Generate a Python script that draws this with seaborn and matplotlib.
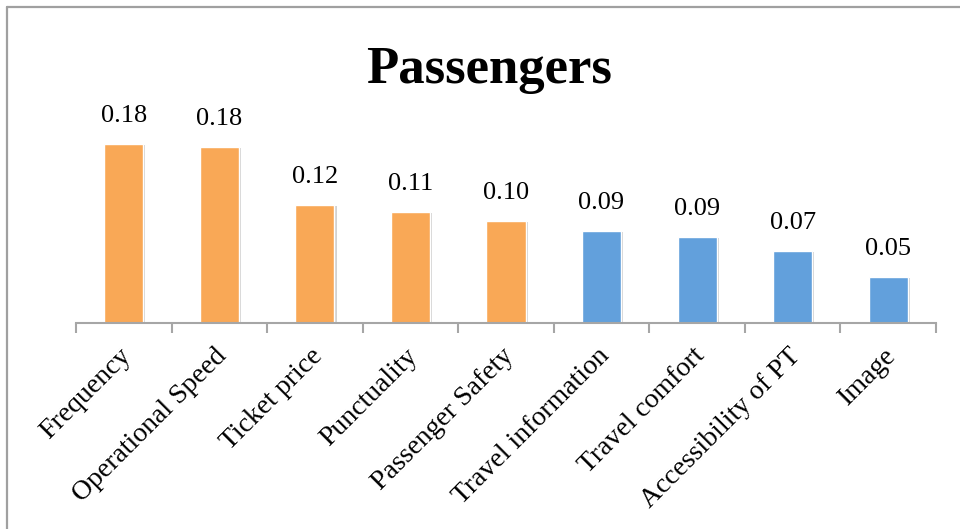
import matplotlib
matplotlib.use("Agg")
import matplotlib.pyplot as plt
import matplotlib.patheffects as pe
from matplotlib.lines import Line2D
from matplotlib.transforms import ScaledTranslation
import seaborn as sns
import pandas as pd

# Importance weights of service attributes for passengers
categories = ["Frequency", "Operational Speed", "Ticket price", "Punctuality",
              "Passenger Safety", "Travel information", "Travel comfort",
              "Accessibility of PT", "Image"]
weights = [0.179, 0.176, 0.118, 0.111, 0.102, 0.092, 0.086, 0.072, 0.046]
groups = ["major"] * 5 + ["minor"] * 4
group_colors = {"major": "#F9A856", "minor": "#62A0DC"}

df = pd.DataFrame({"attribute": categories, "weight": weights, "group": groups})

sns.set_theme(style="white")
plt.rcParams["font.family"] = ["Liberation Serif", "DejaVu Serif"]

fig = plt.figure(figsize=(9.6, 5.29), dpi=100)
ax = fig.add_axes([76 / 960, 1 - 323 / 529, (936 - 76) / 960, 200 / 529])

sns.barplot(data=df, x="attribute", y="weight", hue="group", palette=group_colors,
            dodge=False, width=0.41, legend=False, ax=ax, saturation=1)

shadow = [pe.SimplePatchShadow(offset=(1.5, -1.0), shadow_rgbFace="#808080", alpha=0.35),
          pe.Normal()]
for bar in ax.patches:
    bar.set_path_effects(shadow)

ax.set_xlim(-0.5, len(categories) - 0.5)
ax.set_ylim(0, 0.2)
ax.set_xlabel("")
ax.set_ylabel("")
ax.set_yticks([])
for side in ("top", "right", "left"):
    ax.spines[side].set_visible(False)
ax.spines["bottom"].set_color("#A6A6A6")
ax.spines["bottom"].set_linewidth(1.5)

# value labels above each bar
for i, v in enumerate(weights):
    ax.annotate(f"{v:.2f}", xy=(i, v), xytext=(0, 12.5), textcoords="offset points",
                ha="center", va="bottom", fontsize=19, color="black")

# category boundary ticks, labels rotated under the axis
ax.set_xticks([i - 0.5 for i in range(len(categories) + 1)], minor=True)
ax.tick_params(axis="x", which="minor", length=7, width=1.5, color="#A6A6A6",
               direction="out", bottom=True)
ax.tick_params(axis="x", which="major", length=0, pad=14)
ax.set_xticks(range(len(categories)))
ax.set_xticklabels(categories, rotation=45, ha="right", rotation_mode="anchor",
                   fontsize=20, color="black")
nudge = ScaledTranslation(-5 / 100, -1 / 100, fig.dpi_scale_trans)
for lbl in ax.get_xticklabels():
    lbl.set_transform(lbl.get_transform() + nudge)

fig.text(489 / 960, 1 - 83 / 529, "Passengers", ha="center", va="baseline",
         fontsize=38, fontweight="bold", color="black")

# chart frame along the left and top edges
fig.add_artist(Line2D([7 / 960, 7 / 960], [0, 1 - 7 / 529], transform=fig.transFigure,
                      color="#A0A0A0", linewidth=1.6))
fig.add_artist(Line2D([7 / 960, 1], [1 - 7 / 529, 1 - 7 / 529], transform=fig.transFigure,
                      color="#A0A0A0", linewidth=1.6))

fig.savefig("out.png", dpi=100, facecolor="white")
